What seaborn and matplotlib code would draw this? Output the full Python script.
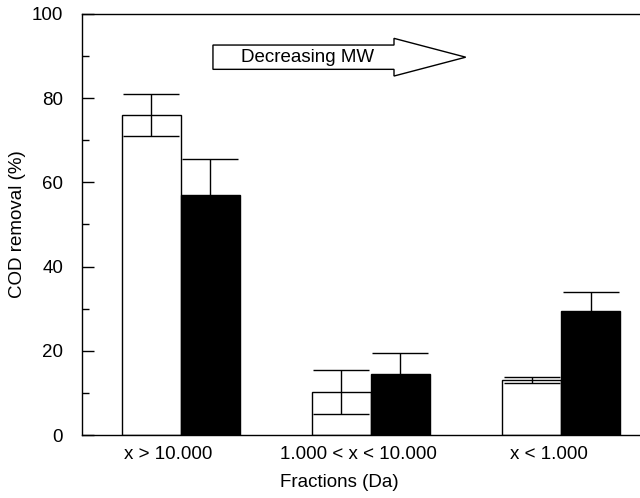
import matplotlib
matplotlib.use("Agg")
import matplotlib.pyplot as plt
import seaborn as sns
import pandas as pd
from matplotlib.patches import FancyArrow
from matplotlib.ticker import MultipleLocator
from matplotlib.transforms import ScaledTranslation

# COD removal per molecular-weight fraction, two series (open and filled bars)
fractions = ["x > 10.000", "1.000 < x < 10.000", "x < 1.000"]
series = ["Series 1", "Series 2"]
removal_1 = [76.0, 10.2, 13.1]
error_1 = [5.0, 5.2, 0.7]
removal_2 = [57.0, 14.5, 29.5]
error_2 = [8.5, 4.9, 4.5]

df = pd.DataFrame({
    "fraction": fractions * 2,
    "series": [series[0]] * len(fractions) + [series[1]] * len(fractions),
    "removal": removal_1 + removal_2,
})

sns.set_style("ticks")
plt.rcParams["font.family"] = ["Liberation Sans", "DejaVu Sans"]
plt.rcParams["axes.linewidth"] = 1.0
for key in ("text.color", "axes.labelcolor", "xtick.color", "ytick.color",
            "axes.edgecolor"):
    plt.rcParams[key] = "black"

FS = 13.5

fig = plt.figure(figsize=(6.4, 4.98), dpi=100)
ax = fig.add_axes([0.128, 0.1265, 0.872, 0.8454])

sns.barplot(data=df, x="fraction", y="removal", hue="series",
            order=fractions, hue_order=series,
            palette=["white", "black"], saturation=1,
            edgecolor="black", linewidth=1.0, width=0.62,
            errorbar=None, legend=False, ax=ax)

for container, errs in zip(ax.containers, [error_1, error_2]):
    for bar, err in zip(container, errs):
        ax.errorbar(bar.get_x() + bar.get_width() / 2, bar.get_height(),
                    yerr=err, color="black", lw=1.0, capsize=20.5,
                    capthick=1.0, zorder=3)

ax.set_ylim(0, 100)
ax.set_xlim(-0.519, 2.415)
ax.yaxis.set_major_locator(MultipleLocator(20))
ax.yaxis.set_minor_locator(MultipleLocator(10))
ax.tick_params(axis="y", which="major", direction="in", length=8.6,
               width=1.0, pad=13.5, labelsize=FS)
ax.tick_params(axis="y", which="minor", direction="in", length=5,
               width=1.0)
ax.tick_params(axis="x", which="both", length=0, pad=8, labelsize=FS)
ax.spines["right"].set_visible(False)

shift = ScaledTranslation(-12 / 100, 0, fig.dpi_scale_trans)
for lbl in ax.get_xticklabels():
    lbl.set_transform(lbl.get_transform() + shift)

ax.set_xlabel("Fractions (Da)", fontsize=FS)
ax.set_ylabel("COD removal (%)", fontsize=FS)
ax.xaxis.set_label_coords(0.4606, -0.093)
ax.yaxis.set_label_coords(-0.1004, 0.5)

arrow = FancyArrow(0.2348, 0.8974, 0.4529, 0, width=0.0577,
                   head_width=0.0895, head_length=0.1285,
                   length_includes_head=True, transform=ax.transAxes,
                   facecolor="white", edgecolor="black", linewidth=1.0,
                   zorder=4)
ax.add_patch(arrow)
ax.text(0.405, 0.8967, "Decreasing MW", transform=ax.transAxes,
        ha="center", va="center", fontsize=FS, zorder=5)

fig.savefig("out.png", dpi=100)
